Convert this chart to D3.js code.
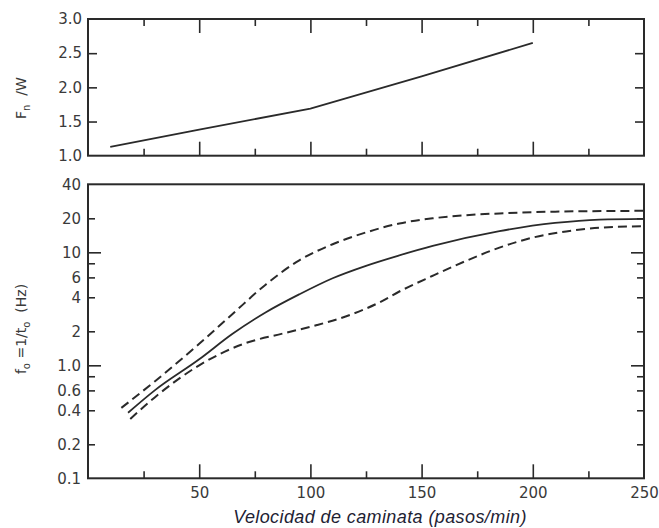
<!DOCTYPE html>
<html>
<head>
<meta charset="utf-8">
<script src="https://cdn.jsdelivr.net/npm/d3@7"></script>
<style>
  html, body { margin: 0; padding: 0; background: #fff; }
  svg { display: block; }
  .tick text { font-family: "DejaVu Sans", sans-serif; fill: #3a3a3a; }
</style>
</head>
<body>
<svg id="chart" width="659" height="528"></svg>
<script>
// Upper panel: normalised force vs walking pace
const pasoFuerza = [10, 50, 100, 150, 200];
const fuerzaW = [1.13, 1.38, 1.69, 2.16, 2.65];

// Lower panel: f0 = 1/t0 (Hz) — mean curve and two bounding curves
const pasoMedia = [18, 30, 50, 65, 80, 95, 110, 125, 140, 155, 185, 210, 230, 250];
const fMedia = [0.38, 0.6, 1.13, 1.9, 2.95, 4.25, 5.9, 7.6, 9.4, 11.4, 15.4, 18.2, 19.5, 19.8];

const pasoSuperior = [15, 30, 50, 65, 80, 95, 110, 125, 140, 155, 170, 185, 210, 250];
const fSuperior = [0.42, 0.72, 1.55, 2.85, 5.2, 8.5, 11.8, 15.0, 18.0, 20.0, 21.3, 22.1, 22.9, 23.3];

const pasoInferior = [19, 30, 50, 70, 88, 103, 118, 131, 140, 155, 170, 185, 200, 215, 230, 250];
const fInferior = [0.335, 0.52, 1.0, 1.55, 1.92, 2.27, 2.8, 3.6, 4.5, 6.2, 8.4, 11.0, 13.5, 15.3, 16.5, 17.0];

// Axis ticks
const xTicks = [25, 50, 75, 100, 125, 150, 175, 200, 225];
const xLabels = [50, 100, 150, 200, 250];
const yTopTicks = [1.0, 1.5, 2.0, 2.5, 3.0];
const yBotTicks = [0.1, 0.2, 0.4, 0.6, 0.8, 1, 2, 4, 6, 8, 10, 20, 40];
const yBotLabels = { 0.1: "0.1", 0.2: "0.2", 0.4: "0.4", 0.6: "0.6", 1: "1.0", 2: "2", 4: "4", 6: "6", 10: "10", 20: "20", 40: "40" };

const svg = d3.select("#chart");
const ink = "#2a2a2a";

const left = 88, right = 644;
const top1 = 19, bot1 = 155.7;
const top2 = 184.3, bot2 = 478.3;

const x = d3.scaleLinear().domain([0, 250]).range([left, right]);
const yTop = d3.scaleLinear().domain([1, 3]).range([bot1, top1]);
const yBot = d3.scaleLog().domain([0.1, 40]).range([bot2, top2]);

function frame(y0, y1) {
  svg.append("rect")
    .attr("x", left).attr("y", y0)
    .attr("width", right - left).attr("height", y1 - y0)
    .attr("fill", "none").attr("stroke", ink).attr("stroke-width", 2);
}

function styleAxis(g) {
  g.select(".domain").remove();
  g.selectAll(".tick line").attr("stroke", ink).attr("stroke-width", 1.6);
}

// x ticks along the top and bottom edges of a panel (pointing inwards)
function xEdgeTicks(yPos, dir) {
  const ax = (dir > 0 ? d3.axisBottom(x) : d3.axisTop(x))
    .tickValues(xTicks).tickFormat("").tickSizeInner(0).tickSizeOuter(0);
  const g = svg.append("g").attr("transform", `translate(0,${yPos})`).call(ax);
  styleAxis(g);
  g.selectAll(".tick line").attr("y2", d => dir * (d % 50 === 0 ? 14 : 7));
  return g;
}

// ---------- Upper panel ----------
frame(top1, bot1);
xEdgeTicks(top1, 1);
xEdgeTicks(bot1, -1);

const gTopL = svg.append("g").attr("transform", `translate(${left},0)`)
  .call(d3.axisLeft(yTop).tickValues(yTopTicks).tickFormat(d3.format(".1f"))
    .tickSizeInner(-9).tickSizeOuter(0).tickPadding(6));
styleAxis(gTopL);
gTopL.selectAll(".tick line").attr("x2", d => (d === 1 || d === 3) ? 0 : 9);
gTopL.selectAll(".tick text").attr("font-size", 15);

const gTopR = svg.append("g").attr("transform", `translate(${right},0)`)
  .call(d3.axisRight(yTop).tickValues([1.5, 2.0, 2.5]).tickFormat("")
    .tickSizeInner(-9).tickSizeOuter(0));
styleAxis(gTopR);

const lineTop = d3.line()
  .x((d, i) => x(pasoFuerza[i]))
  .y(d => yTop(d));

svg.append("path").datum(fuerzaW)
  .attr("d", lineTop)
  .attr("fill", "none").attr("stroke", ink).attr("stroke-width", 1.8);

// ---------- Lower panel ----------
frame(top2, bot2);
xEdgeTicks(bot2, -1);

const majorLog = d => d === 1 || d === 10;
const gBotL = svg.append("g").attr("transform", `translate(${left},0)`)
  .call(d3.axisLeft(yBot).tickValues(yBotTicks)
    .tickFormat(d => yBotLabels[d] || "")
    .tickSizeInner(-8).tickSizeOuter(0).tickPadding(7));
styleAxis(gBotL);
gBotL.selectAll(".tick line").attr("x2", d => (d === 0.1 || d === 40) ? 0 : (majorLog(d) ? 13 : 7));
gBotL.selectAll(".tick text").attr("font-size", 15);

const gBotR = svg.append("g").attr("transform", `translate(${right},0)`)
  .call(d3.axisRight(yBot).tickValues(yBotTicks.filter(d => d !== 0.1 && d !== 40))
    .tickFormat("").tickSizeInner(-8).tickSizeOuter(0));
styleAxis(gBotR);
gBotR.selectAll(".tick line").attr("x2", d => majorLog(d) ? -13 : -7);

// x tick labels under the lower panel
const gXLab = svg.append("g").attr("transform", `translate(0,${bot2})`)
  .call(d3.axisBottom(x).tickValues(xLabels).tickFormat(d3.format("d"))
    .tickSizeInner(0).tickSizeOuter(0).tickPadding(9));
styleAxis(gXLab);
gXLab.selectAll(".tick text").attr("font-size", 15);

function curve(xs, ys, dash) {
  const ln = d3.line()
    .x((d, i) => x(xs[i]))
    .y(d => yBot(d))
    .curve(d3.curveMonotoneX);
  svg.append("path").datum(ys)
    .attr("d", ln)
    .attr("fill", "none").attr("stroke", ink)
    .attr("stroke-width", dash ? 2 : 1.8)
    .attr("stroke-dasharray", dash ? "9,5" : null);
}
curve(pasoSuperior, fSuperior, true);
curve(pasoMedia, fMedia, false);
curve(pasoInferior, fInferior, true);

// ---------- Axis titles ----------
const tTop = svg.append("text")
  .attr("transform", "translate(26,98) rotate(-90)")
  .attr("text-anchor", "middle")
  .attr("font-family", "DejaVu Sans, sans-serif")
  .attr("font-size", 14).attr("fill", "#3a3a3a");
tTop.append("tspan").text("F");
tTop.append("tspan").attr("font-size", 10).attr("dy", 4).text("n");
tTop.append("tspan").attr("dy", -4).text("\u00a0\u00a0/W");

const tBot = svg.append("text")
  .attr("transform", "translate(26,329) rotate(-90)")
  .attr("text-anchor", "middle")
  .attr("font-family", "DejaVu Sans, sans-serif")
  .attr("font-size", 14).attr("fill", "#3a3a3a");
tBot.append("tspan").text("f");
tBot.append("tspan").attr("font-size", 10).attr("dy", 4).text("o");
tBot.append("tspan").attr("dy", -4).text(" =1/t");
tBot.append("tspan").attr("font-size", 10).attr("dy", 4).text("o");
tBot.append("tspan").attr("dy", -4).text("\u00a0\u00a0(Hz)");

svg.append("text")
  .attr("x", 380).attr("y", 523)
  .attr("text-anchor", "middle")
  .attr("font-family", "Liberation Sans, Arial, sans-serif")
  .attr("font-style", "italic")
  .attr("font-size", 18).attr("letter-spacing", 0.4)
  .attr("fill", "#1e2233")
  .text("Velocidad de caminata (pasos/min)");
</script>
</body>
</html>
